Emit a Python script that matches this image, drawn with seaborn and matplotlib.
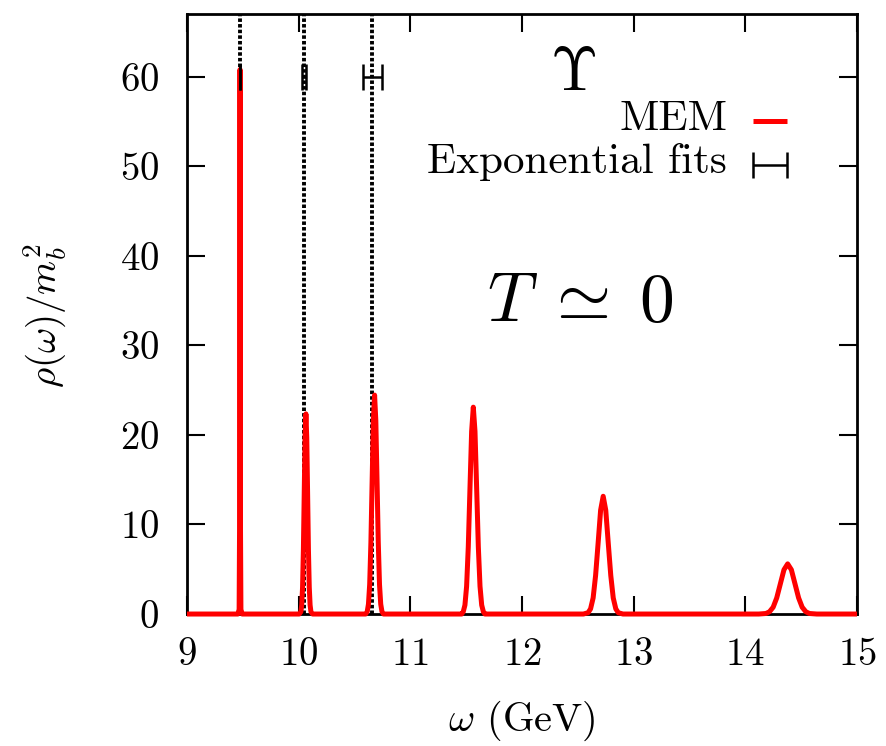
import matplotlib
matplotlib.use("Agg")
import matplotlib.pyplot as plt
import seaborn as sns
import pandas as pd

# MEM spectral function of the Upsilon channel at T ~ 0 (omega in GeV, rho/m_b^2)
omega = [
    9.000,
    9.455, 9.467, 9.471, 9.473, 9.475, 9.477, 9.479, 9.483, 9.495,
    10.005, 10.020, 10.0275, 10.035, 10.0425, 10.050, 10.0575, 10.065,
    10.0725, 10.080, 10.0875, 10.095, 10.1025, 10.110, 10.125,
    10.600, 10.614, 10.625, 10.636, 10.647, 10.658, 10.669, 10.680,
    10.691, 10.702, 10.713, 10.724, 10.735, 10.746, 10.760,
    11.460, 11.474, 11.489, 11.504, 11.519, 11.534, 11.549, 11.564,
    11.579, 11.594, 11.609, 11.624, 11.639, 11.654, 11.668,
    12.550, 12.592, 12.614, 12.637, 12.659, 12.682, 12.704, 12.727,
    12.750, 12.772, 12.795, 12.817, 12.840, 12.862, 12.904,
    14.120, 14.184, 14.216, 14.249, 14.281, 14.314, 14.346, 14.379,
    14.412, 14.444, 14.477, 14.509, 14.542, 14.574, 14.640,
    15.000,
]
rho = [
    0.0,
    0.0, 0.5, 10.0, 40.0, 60.8, 40.0, 10.0, 0.5, 0.0,
    0.0, 0.25, 1.0, 3.0, 7.2, 13.6, 19.7, 22.35,
    19.7, 13.6, 7.2, 3.0, 1.0, 0.25, 0.0,
    0.0, 0.27, 1.1, 3.3, 8.0, 14.8, 21.6, 24.45,
    21.6, 14.8, 8.0, 3.3, 1.1, 0.27, 0.0,
    0.0, 0.26, 1.0, 3.1, 7.5, 14.0, 20.4, 23.1,
    20.4, 14.0, 7.5, 3.1, 1.0, 0.26, 0.0,
    0.0, 0.15, 0.58, 1.8, 4.3, 7.98, 11.6, 13.15,
    11.6, 7.98, 4.3, 1.8, 0.58, 0.15, 0.0,
    0.0, 0.06, 0.25, 0.76, 1.8, 3.4, 4.95, 5.6,
    4.95, 3.4, 1.8, 0.76, 0.25, 0.06, 0.0,
    0.0,
]

# Masses from exponential fits (GeV), with their uncertainties
fit_mass = [9.473, 10.047, 10.661]
fit_err = [0.002, 0.016, 0.085]
fit_level = [60, 60, 60]

x_ticks = [9, 10, 11, 12, 13, 14, 15]
y_ticks = [0, 10, 20, 30, 40, 50, 60]

sns.set_theme(style="ticks")
plt.rcParams["font.family"] = ["cmr10", "DejaVu Serif"]
plt.rcParams["mathtext.fontset"] = "cm"
plt.rcParams["axes.formatter.use_mathtext"] = True
plt.rcParams["text.color"] = "black"
plt.rcParams["axes.labelcolor"] = "black"

fig = plt.figure(figsize=(8.87, 7.46), dpi=100)
ax = fig.add_axes([0.2108, 0.1769, 0.7554, 0.8043])

# vertical dotted markers at the fitted masses
for m in fit_mass:
    ax.axvline(m, color="black", lw=2.8, dashes=(0.9, 0.55), zorder=2)

df = pd.DataFrame({"omega": omega, "rho": rho})
sns.lineplot(data=df, x="omega", y="rho", sort=False, estimator=None,
             color="#ff0000", lw=3.6, ax=ax, zorder=4, clip_on=False,
             solid_joinstyle="round", solid_capstyle="butt")

ax.errorbar(fit_mass, fit_level, xerr=fit_err, fmt="none", ecolor="black",
            elinewidth=1.8, capsize=9.5, capthick=1.8, zorder=5)

ax.set_xlim(9, 15)
ax.set_ylim(0, 67)
ax.set_xticks(x_ticks)
ax.set_yticks(y_ticks)
ax.tick_params(axis="both", direction="in", length=13, width=1.5,
               labelsize=28, top=True, right=True, pad=20, color="black",
               labelcolor="black")
ax.tick_params(axis="x", pad=17)
for s in ax.spines.values():
    s.set_linewidth(2.0)
    s.set_color("black")
    s.set_zorder(3)

ax.set_xlabel(r"$\omega$ (GeV)", fontsize=29, labelpad=18, color="black")
ax.set_ylabel(r"$\rho(\omega)/m_b^2$", fontsize=28, color="black")
ax.yaxis.set_label_coords(-0.176, 0.498)

# key
ax.text(0.806, 0.807, "MEM", transform=ax.transAxes, ha="right",
        va="baseline", fontsize=31, color="black")
ax.plot([0.845, 0.896], [0.822, 0.822], transform=ax.transAxes,
        color="#ff0000", lw=3.6, solid_capstyle="butt")
ax.text(0.806, 0.735, "Exponential fits", transform=ax.transAxes,
        ha="right", va="baseline", fontsize=31, color="black")
ax.errorbar([0.8705], [0.748], xerr=[0.0255], fmt="none", ecolor="black",
            elinewidth=1.8, capsize=9.5, capthick=1.8, transform=ax.transAxes)

ax.text(0.576, 0.90, r"$\Upsilon$", transform=ax.transAxes, ha="center",
        va="center", fontsize=44, color="black")
ax.text(0.587, 0.518, r"$T\;\simeq\;0$", transform=ax.transAxes, ha="center",
        va="center", fontsize=50, color="black")

fig.savefig("out.png", dpi=100)
